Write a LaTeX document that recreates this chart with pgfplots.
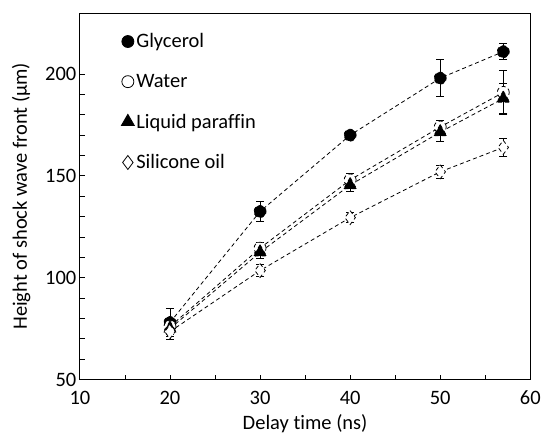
\documentclass[border=0pt]{standalone}
\usepackage{fontspec}
\setmainfont{Carlito}[Ligatures=NoCommon]
\usepackage{pgfplots}
\pgfplotsset{compat=1.18}
\newcommand{\fs}{\fontsize{20.5}{24}\selectfont}
\begin{document}
\begin{tikzpicture}
\begin{axis}[
  width=451pt, height=367pt, scale only axis,
  xmin=10, xmax=60, ymin=50, ymax=230,
  xtick={10,20,...,60}, ytick={50,100,150,200},
  minor x tick num=1, minor y tick num=4,
  tick align=inside, tick pos=left,
  major tick length=5pt, minor tick length=5pt,
  tick style={black, line width=0.8pt},
  axis line style={line width=0.8pt},
  /pgf/number format/assume math mode=true,
  tick label style={font=\fs},
  xticklabel style={yshift=-8pt},
  label style={font=\fs},
  xlabel={Delay time (ns)},
  ylabel={Height of shock wave front (μm)},
  ylabel shift=8pt,
  xlabel shift=3pt,
  legend style={draw=none, fill=none, font=\fs, at={(0.085,0.955)}, anchor=north west, row sep=21pt},
  legend cell align=left,
  legend image code/.code={\draw[#1, solid] plot[only marks] coordinates {(0.15cm,0cm)};},
  every axis plot/.append style={black, line width=0.8pt, dash pattern=on 4pt off 3pt,
    mark options={solid, line width=0.9pt}},
  error bars/y dir=both, error bars/y explicit,
  error bars/error bar style={solid, line width=0.7pt},
  error bars/error mark options={rotate=90, mark size=4pt, line width=0.7pt},
]
% Glycerol
\addplot[mark=*, mark size=6pt, mark options={fill=black}] coordinates {
(20,78) +- (0,7) (30,132.5) +- (0,5) (40,170) +- (0,2) (50,198) +- (0,9) (57,211) +- (0,4)};
\addlegendentry{Glycerol}
% Water
\addplot[mark=*, mark size=6pt, mark options={fill=white}] coordinates {
(20,76) +- (0,4) (30,114.5) +- (0,3) (40,148) +- (0,3) (50,174) +- (0,3.5) (57,191) +- (0,11)};
\addlegendentry{Water}
% Liquid paraffin
\addplot[mark=triangle*, mark size=7.5pt, mark options={fill=black}] coordinates {
(20,75) +- (0,3) (30,112.5) +- (0,3) (40,145.5) +- (0,3) (50,171.5) +- (0,4.5) (57,188) +- (0,7.5)};
\addlegendentry{Liquid paraffin}
% Silicone oil
\addplot[mark=diamond*, mark size=7pt, mark options={fill=white}] coordinates {
(20,73.5) +- (0,4) (30,103.5) +- (0,3) (40,129.5) +- (0,2.5) (50,152) +- (0,3) (57,164) +- (0,4.5)};
\addlegendentry{Silicone oil}
\end{axis}
\path ([yshift=13pt]current axis.north) ([xshift=-80pt]current axis.west)
      ([xshift=13pt]current axis.east) ([yshift=-54pt]current axis.south);
\end{tikzpicture}
\end{document}
